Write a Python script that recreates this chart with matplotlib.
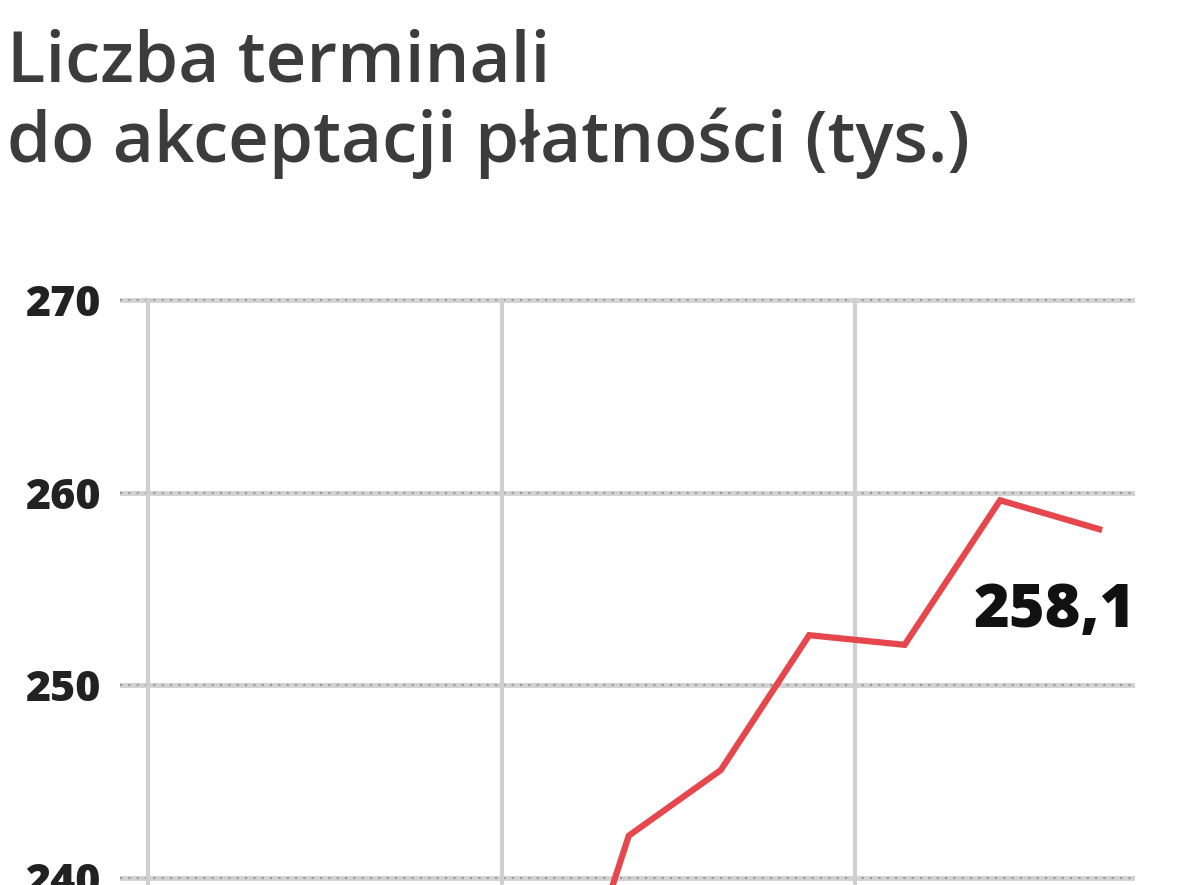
import matplotlib.pyplot as plt

# dane (tys. terminali), kolejne kwartały
x_pos = [1.09, 1.36, 1.62, 1.87, 2.14, 2.41, 2.69]
values = [227.0, 242.2, 245.6, 252.6, 252.1, 259.6, 258.1]
y_ticks = [240, 250, 260, 270]
year_lines = [0, 1, 2]
last_label = '258,1'

fig = plt.figure(figsize=(12, 8.85), dpi=100)
ax = fig.add_axes([0.10, 0.0, 0.846, 0.668])

ax.set_xlim(-0.079, 2.792)
ax.set_ylim(239.64, 270.31)

for y in y_ticks:
    ax.axhline(y, color='#d2d2d2', lw=3.5, zorder=1)
    ax.axhline(y, color='#9a9a9a', lw=1.5, ls=(0, (1, 3)), zorder=1)
for x in year_lines:
    ax.axvline(x, ymax=(270 - 239.64) / (270.31 - 239.64),
               color='#cfcfcf', lw=3, zorder=1)

ax.plot(x_pos, values, color='#e5474c', lw=4.5, solid_joinstyle='miter', zorder=3)

ax.annotate(last_label, xy=(x_pos[-1], values[-1]), xytext=(-32, -59),
            textcoords='offset points', ha='center', va='center',
            fontsize=44, fontweight='heavy', color='#111111',
            family='Open Sans', zorder=4)

ax.set_yticks(y_ticks)
ax.set_yticklabels([str(t) for t in y_ticks], fontsize=31, fontweight='heavy',
                   color='#222222', family='Open Sans')
ax.tick_params(axis='y', length=0, pad=14)
ax.set_xticks([])
for s in ax.spines.values():
    s.set_visible(False)

fig.text(0.006, 0.968, 'Liczba terminali\ndo akceptacji płatności (tys.)',
         ha='left', va='top', fontsize=51, fontweight='semibold', color='#3c3c3c',
         family='Open Sans', linespacing=1.17)

fig.savefig('out.png', dpi=100)
